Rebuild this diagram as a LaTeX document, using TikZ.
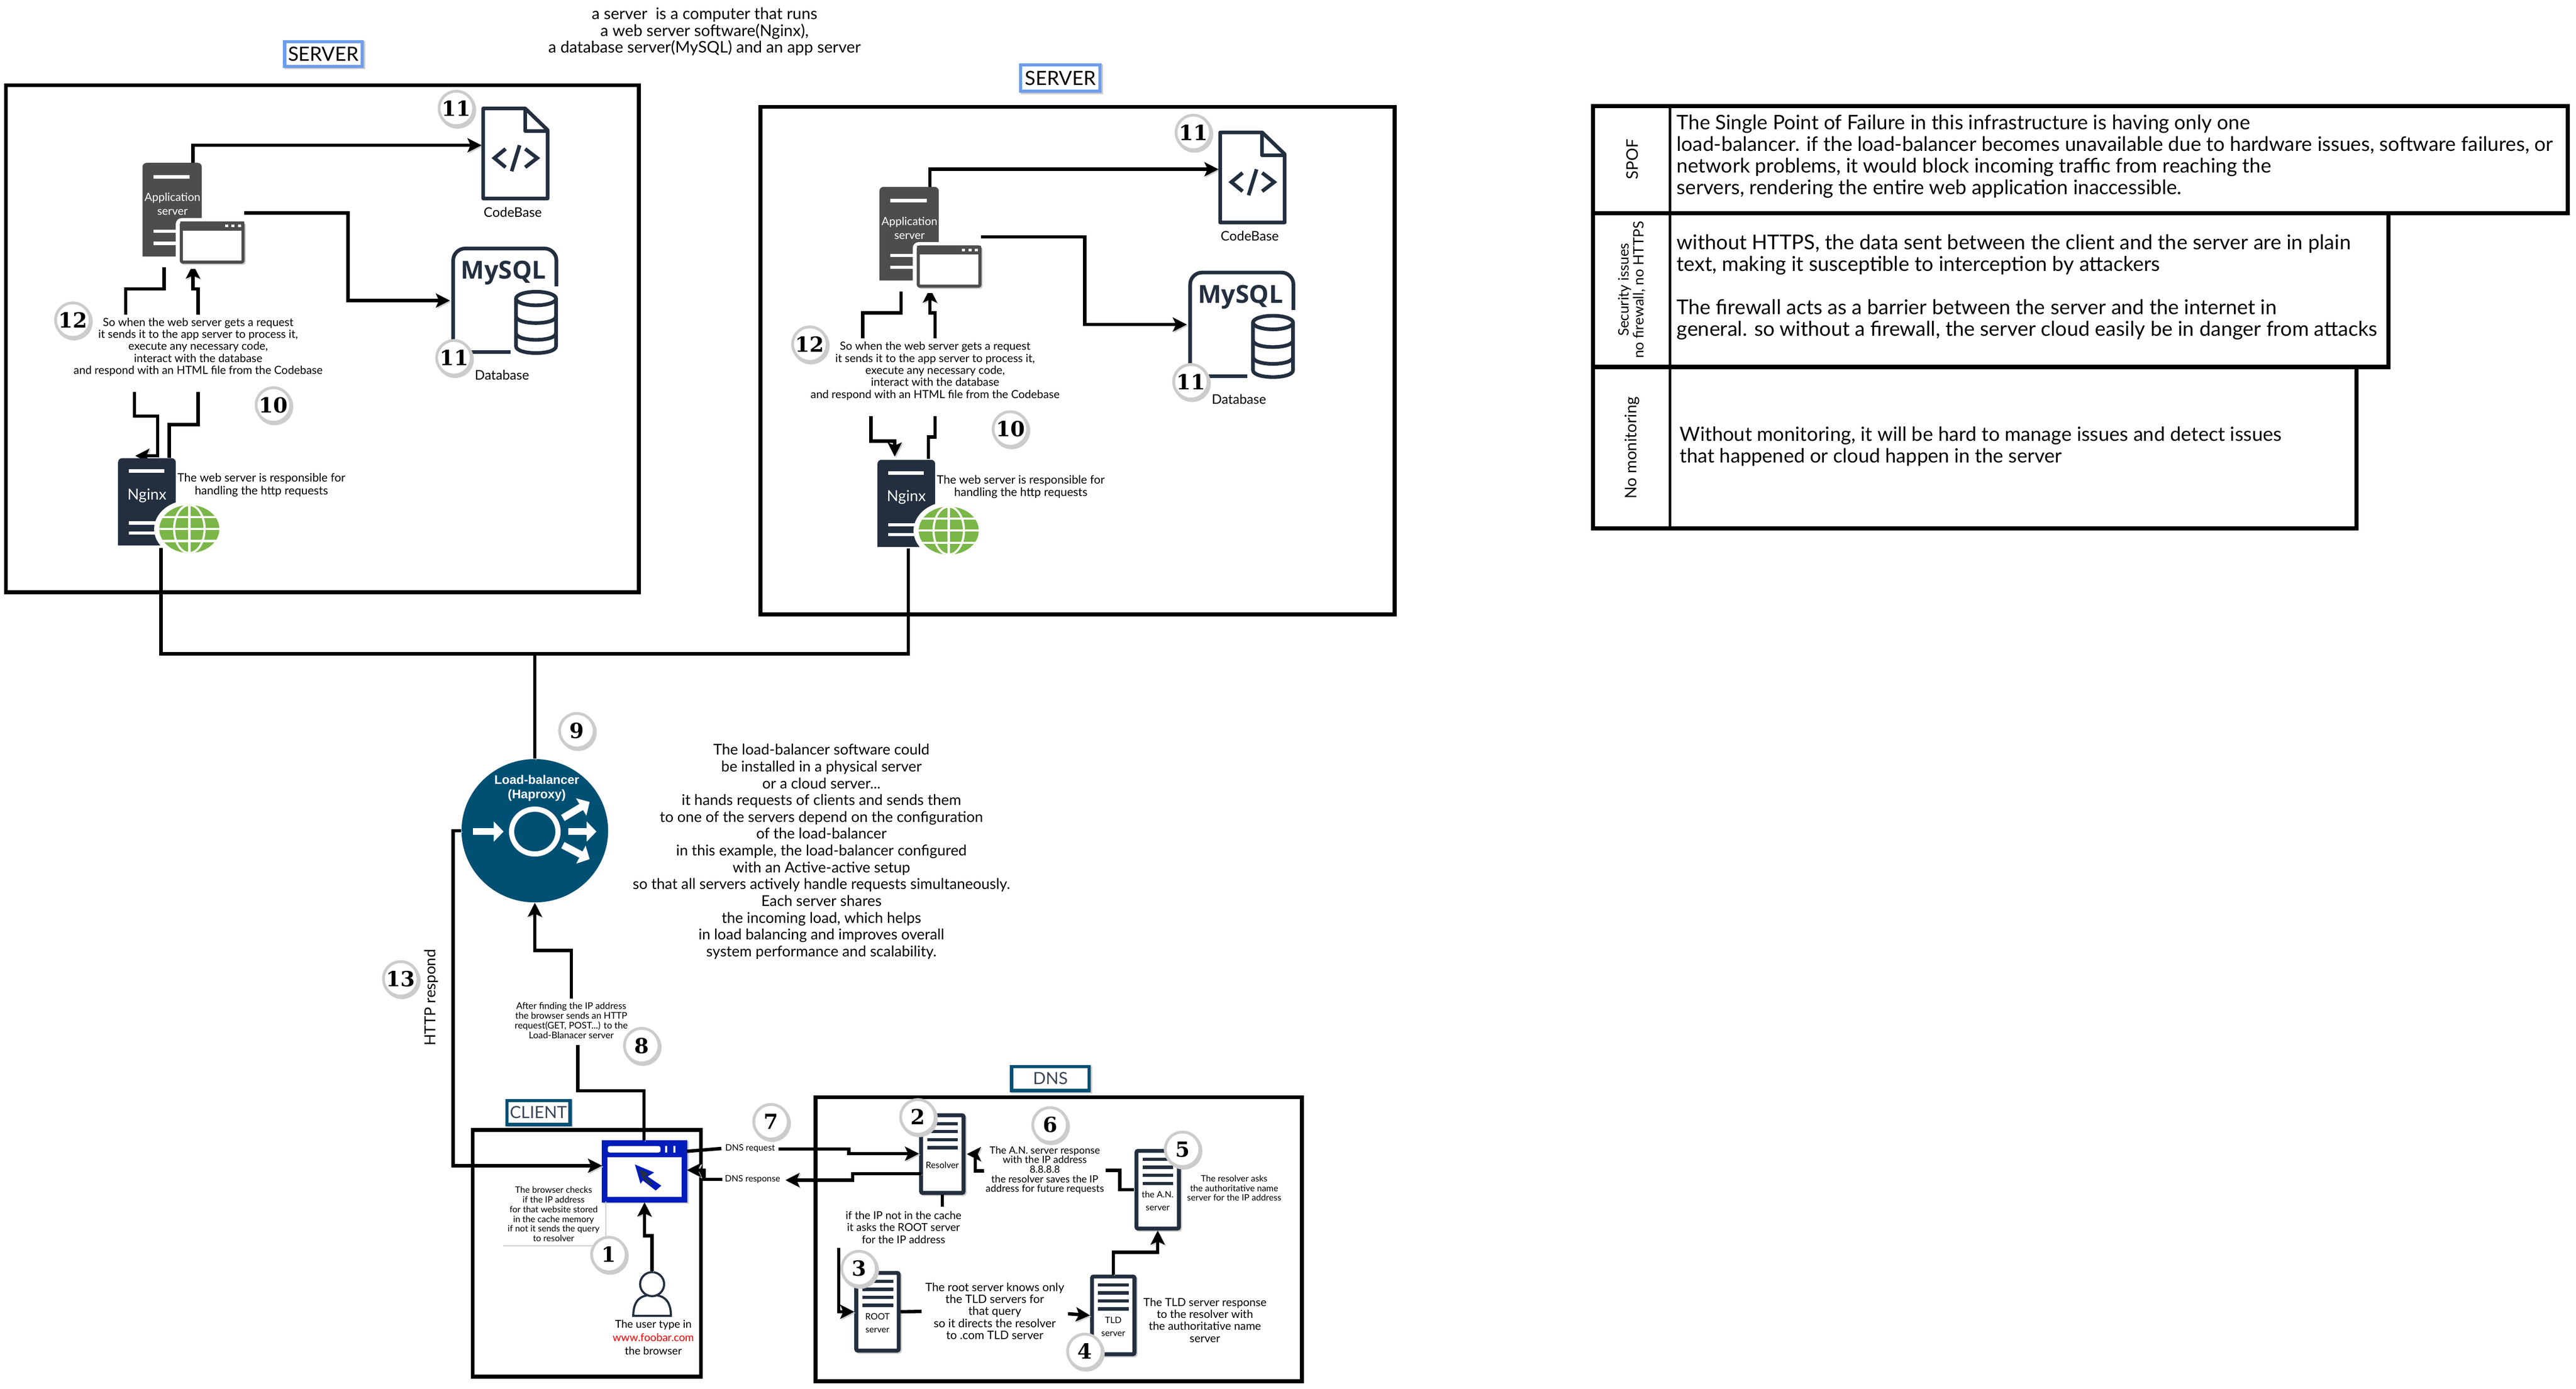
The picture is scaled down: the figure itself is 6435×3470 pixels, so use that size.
\documentclass[tikz,border=0pt]{standalone}
\usepackage{fontspec}
\usetikzlibrary{arrows.meta,shapes.geometric}
\setmainfont{Lato}
\newfontfamily\badgefont{DejaVu Serif}
\newfontfamily\lbfont{Liberation Sans}
\newfontfamily\dbfont{Open Sans}
\newcommand\hsz[2]{\pgfmathsetmacro\hsza{#1*0.2845}\pgfmathsetmacro\hszb{#2*0.2845}\fontsize{\hsza pt}{\hszb pt}\selectfont}
\definecolor{navy}{HTML}{232F3E}
\definecolor{lbblue}{HTML}{005073}
\definecolor{appgray}{HTML}{4D4D4D}
\definecolor{srvblue}{HTML}{6D9EEB}
\definecolor{brblue}{HTML}{001DBC}
\definecolor{globeg}{HTML}{7AB648}
\definecolor{ringg}{HTML}{CCCCCC}
\definecolor{tagtxt}{HTML}{3A4656}
\tikzset{
  sh/.style={preaction={draw=black!20,transform canvas={shift={(3,3)}}}},
  frame/.style={draw=black,line width=2.8pt,sh},
  conn/.style={draw=black,line width=2.4pt,line join=miter,sh},
  arw/.style={conn,-{Stealth[length=10pt,width=10pt,inset=2.2pt]}},
  lbl/.style={align=center,inner sep=0pt},
  tag/.style={draw=#1,fill=white,line width=2.3pt,inner sep=0pt,sh},
  badge/.style={circle,draw=ringg,fill=white,line width=2pt,minimum size=2.5cm/2.9,inner sep=0pt,font={\badgefont\bfseries\hsz{52}{52}},
     preaction={draw=black!20,transform canvas={shift={(3,4)}}}},
  navyline/.style={draw=navy,line width=2.6pt},
}
% DNS style server icon
\newcommand\dnsicon[4]{% name, x, y, label
  \node[draw=navy,fill=white,line width=2.8pt,rounded corners=0.4mm,minimum width=1.06cm,minimum height=1.94cm,inner sep=0pt,sh] (#1) at (#2+55,#3+99) {};
  \foreach \dy in {23,43,63,83}{\fill[navy] (#2+17,#3+\dy-4) rectangle (#2+94,#3+\dy+4);}
  \node[lbl,font=\hsz{22}{26}] (#1t) at (#2+55,#3+127) {#4};
}
% application server, codebase, database and the text between them
\newcommand\srvblock[1]{%
  \coordinate (#1a) at (482,407); \coordinate (#1b) at (1203,363);
  \coordinate (#1c) at (610,532); \coordinate (#1d) at (1124,751);
  \coordinate (#1e) at (410,668); \coordinate (#1f) at (314,786);
  \coordinate (#1g) at (495,786); \coordinate (#1h) at (482,661);
  \draw[arw] (#1a) -- (482,363) -- (#1b);
  \draw[arw] (#1c) -- (869,532) -- (869,751) -- (#1d);
  \draw[conn] (#1e) -- (410,722) -- (314,722) -- (#1f);
  \draw[arw] (#1g) -- (495,722) -- (482,722) -- (#1h);
  % application server
  \fill[appgray] (356,641) [rounded corners=1mm] -- (356,407) -- (504,407) [sharp corners] -- (504,641) -- cycle;
  \fill[white] (383,437) rectangle (474,446);
  \node[lbl,text=white,font=\hsz{28}{34}] (#1apt) at (431,510) {Application\\server};
  \fill[white] (383,574) rectangle (440,582);
  \fill[white] (383,604) rectangle (440,612);
  \fill[white,rounded corners=1.5mm] (439,545) rectangle (625,672);
  \node[draw=appgray,fill=white,line width=2.2pt,rounded corners=0.4mm,minimum width=1.54cm,minimum height=0.98cm,inner sep=0pt,sh] (#1win) at (530,606) {};
  \fill[appgray] (450,554) rectangle (610,576);
  \foreach \wx in {566,582,598}{\fill[white] (\wx-4,561) rectangle (\wx+4,568);}
  % codebase
  \draw[navyline,line join=round,fill=white,sh] (1207,271) -- (1312,271) -- (1368,325) -- (1368,496) -- (1207,496) -- cycle;
  \draw[navyline,line join=round] (1312,271) -- (1312,328) -- (1368,328);
  \draw[navyline] (1263,372) -- (1235,395) -- (1263,418);
  \draw[navyline] (1312,372) -- (1342,395) -- (1312,418);
  \draw[navyline] (1298,363) -- (1278,428);
  \node[lbl,font=\hsz{33}{33}] (#1cbt) at (1281,530) {CodeBase};
  % database
  \draw[navyline,rounded corners=3mm,line cap=butt] (1132,880) -- (1132,621) -- (1390,621) -- (1390,740);
  \draw[navyline] (1132,880) -- (1282,880);
  \node[lbl,text=navy,font={\dbfont\bfseries\hsz{62}{62}}] (#1my) at (1258,682) {MySQL};
  \fill[white] (1275,715) rectangle (1405,895);
  \draw[navyline,fill=white] (1289,746) -- (1289,865) .. controls (1289,888) and (1389,888) .. (1389,865) -- (1389,746);
  \draw[navyline,fill=white] (1339,746) ellipse[x radius=50,y radius=17];
  \draw[navyline] (1289,790) .. controls (1289,813) and (1389,813) .. (1389,790);
  \draw[navyline] (1289,832) .. controls (1289,855) and (1389,855) .. (1389,832);
  \node[lbl,font=\hsz{33}{33}] (#1dbt) at (1254,937) {Database};
  \node[lbl,font=\hsz{28}{30}] (#1lab) at (495,867) {So when the web server gets a request\\it sends it to the app server to process it,\\execute any necessary code,\\interact with the database\\and respond with an HTML file from the Codebase};
  \node[badge] (#1b1) at (1140,271) {11};
  \node[badge] (#1b2) at (1134,894) {11};
  \node[badge] (#1b3) at (182,800) {12};
  \node[badge] (#1b4) at (683,1012) {10};
}
% nginx with its globe
\newcommand\ngx[3]{%
  \fill[navy] (#2,#3+218) [rounded corners=1mm] -- (#2,#3) -- (#2+144,#3) [sharp corners] -- (#2+144,#3+218) -- cycle;
  \node[inner sep=0pt,minimum width=1.44cm,minimum height=2.18cm] (#1) at (#2+72,#3+109) {};
  \fill[white] (#2+27,#3+28) rectangle (#2+115,#3+37);
  \node[lbl,text=white,font=\hsz{38}{38}] (#1t) at (#2+72,#3+94) {Nginx};
  \fill[white] (#2+27,#3+158) rectangle (#2+100,#3+166);
  \fill[white] (#2+27,#3+183) rectangle (#2+100,#3+191);
  \fill[white] (#2+178,#3+177) ellipse[x radius=88,y radius=72];
  \fill[globeg] (#2+178,#3+177) ellipse[x radius=75,y radius=60];
  \begin{scope}
    \clip (#2+178,#3+177) ellipse[x radius=75,y radius=60];
    \draw[white,line width=1.5pt] (#2+178,#3+117) -- (#2+178,#3+237);
    \draw[white,line width=1.5pt] (#2+178,#3+177) ellipse[x radius=38,y radius=60];
    \draw[white,line width=1.5pt] (#2+100,#3+177) -- (#2+260,#3+177);
    \draw[white,line width=1.5pt] (#2+100,#3+147) -- (#2+260,#3+147);
    \draw[white,line width=1.5pt] (#2+100,#3+207) -- (#2+260,#3+207);
  \end{scope}
}
\begin{document}
\begin{tikzpicture}[x=0.01cm,y=-0.01cm]
\useasboundingbox (0,0) rectangle (6435,3470);
\fill[white] (0,0) rectangle (6435,3470);

% frames
\draw[frame] (15,213) rectangle (1596,1480);
\draw[frame] (1900,267) rectangle (3484,1535);
\draw[frame] (1181,2824) rectangle (1751,3440);
\draw[frame] (2037,2742) rectangle (3252,3452);

% tags
\node[tag=srvblue,minimum width=1.94cm,minimum height=0.62cm,font=\hsz{49}{49}] (tagA) at (808,135) {SERVER};
\node[tag=srvblue,minimum width=1.98cm,minimum height=0.66cm,font=\hsz{49}{49}] (tagB) at (2649,195) {SERVER};
\node[tag=lbblue,text=tagtxt,minimum width=1.58cm,minimum height=0.60cm,font=\hsz{42}{42}] (tagC) at (1345,2780) {CLIENT};
\node[tag=lbblue,text=tagtxt,minimum width=1.94cm,minimum height=0.60cm,font=\hsz{42}{42}] (tagD) at (2624,2695) {DNS};

% top text
\node[lbl,font=\hsz{40}{42}] (intro) at (1760,79) {a server\ \ is a computer that runs\\a web server software(Nginx),\\a database server(MySQL) and an app server};

% server blocks
\srvblock{p}
\begin{scope}[shift={(1841,60)}]
\srvblock{q}
\end{scope}

% nginx connectors
\coordinate (n1a) at (336,980); \coordinate (n1b) at (338,1139);
\coordinate (n1c) at (495,980); \coordinate (n1d) at (423,1144);
\coordinate (n2a) at (2176,1040); \coordinate (n2b) at (2235,1141);
\coordinate (n2c) at (2336,1040); \coordinate (n2d) at (2319,1147);
\draw[arw] (n1a) -- (336,1040) -- (394,1040) -- (394,1139) -- (n1b);
\draw[conn] (n1c) -- (495,1061) -- (423,1061) -- (n1d);
\draw[arw] (n2a) -- (2176,1102) -- (2235,1102) -- (n2b);
\draw[conn] (n2c) -- (2336,1092) -- (2319,1092) -- (n2d);

% load balancer
\node[ellipse,fill=lbblue,minimum width=3.66cm,minimum height=3.58cm,inner sep=0pt] (lb) at (1336,2076) {};
\coordinate (bus1) at (402,1370); \coordinate (bus2) at (2269,1371); \coordinate (busj) at (1336,1634);
\draw[conn] (bus1) -- (402,1634) -- (2269,1634) -- (bus2);
\draw[conn] (busj) -- (lb.north);
\node[lbl,text=white,font={\lbfont\bfseries\hsz{31}{36}}] (lbt) at (1341,1970) {Load-balancer\\(Haproxy)};
\draw[white,line width=3.7pt] (1336,2078) ellipse[x radius=58,y radius=56];
\foreach \ax/\ay/\bx/\by in {1181/2078/1258/2078,1419/2078/1490/2078,1406/2044/1473/2004,1406/2112/1473/2147}{
  \draw[white,line width=5pt,-{Triangle[length=7pt,width=14pt]}] (\ax,\ay) -- (\bx,\by);
}
\node[lbl,font=\hsz{37}{42}] (lbtxt) at (2052,2128) {The load-balancer software could\\be installed in a physical server\\or a cloud server...\\it hands requests of clients and sends them\\to one of the servers depend on the configuration\\of the load-balancer\\in this example, the load-balancer configured\\with an Active-active setup\\so that all servers actively handle requests simultaneously.\\Each server shares\\the incoming load, which helps\\in load balancing and improves overall\\system performance and scalability.};

% nginx icons
\ngx{ngA}{295}{1145}
\ngx{ngB}{2192}{1149}
\node[lbl,font=\hsz{29}{31}] (wsA) at (653,1212) {The web server is responsible for\\handling the http requests};
\node[lbl,font=\hsz{29}{31}] (wsB) at (2550,1216) {The web server is responsible for\\handling the http requests};

% client
\node[draw=brblue,fill=white,line width=4pt,minimum width=2.0cm,minimum height=1.41cm,inner sep=0pt,sh] (br) at (1610,2927) {};
\fill[brblue] (1504,2850) rectangle (1716,2892);
\fill[white,rounded corners=0.5mm] (1518,2864) rectangle (1650,2880);
\fill[white] (1662,2864) rectangle (1667,2880);
\fill[white] (1682,2864) rectangle (1687,2880);
\fill[brblue] (1586,2910) -- (1634,2930) -- (1618,2940) -- (1652,2963) -- (1638,2975) -- (1606,2950) -- (1600,2958) -- cycle;
\fill[navy] (1596,2922) -- (1620,2933) -- (1610,2941) -- (1630,2957) -- (1626,2962) -- (1604,2942) -- cycle;

\coordinate (lbl8t) at (1427,2496);
\draw[arw] (lbl8t) -- (1427,2375) -- (1336,2375) -- (lb.south);
\coordinate (lbl8b) at (1443,2611);
\draw[conn] (lbl8b) -- (1443,2726) -- (1609,2726) -- (1609,2850);
\coordinate (respE) at (1504,2913);
\draw[arw] (lb.west) -- (1132,2076) -- (1132,2913) -- (respE);
\node[lbl,rotate=90,font=\hsz{38}{38}] (httpr) at (1078,2493) {HTTP respond};
\node[lbl,font=\hsz{23}{24.3}] (after) at (1427,2550) {After finding the IP address\\the browser sends an HTTP\\request(GET, POST...) to the\\Load-Blanacer server};

\draw[ringg,line width=0.7pt] (1513,3003) -- (1513,3113) -- (1258,3113);
\node[lbl,font=\hsz{22}{24.2}] (chk) at (1383,3034) {The browser checks\\if the IP address\\for that website stored\\in the cache memory\\if not it sends the query\\to resolver};

\draw[navyline,line width=1.5pt,fill=white] (1582,3288) .. controls (1582,3245) and (1605,3236) .. (1629,3236) .. controls (1653,3236) and (1676,3245) .. (1676,3288) -- cycle;
\node[circle,draw=navy,fill=white,line width=1.5pt,minimum size=0.6cm,inner sep=0pt] (head) at (1629,3209) {};
\draw[arw] (head.north) -- (1629,3088) -- (1610,3088) -- (br.south);
\node[lbl,font=\hsz{27}{33}] (usr) at (1632,3342) {The user type in\\\textcolor{red}{www.foobar.com}\\the browser};

% DNS icons
\dnsicon{res}{2299}{2785}{Resolver}
\dnsicon{ans}{2837}{2874}{the A.N.\\[2pt]server}
\dnsicon{rts}{2137}{3179}{ROOT\\[2pt]server}
\dnsicon{tld}{2726}{3188}{TLD\\[2pt]server}

% DNS connectors
\node[lbl,font=\hsz{22}{22}] (dq) at (1874,2870) {DNS request};
\node[lbl,font=\hsz{22}{22}] (dr) at (1880,2947) {DNS response};
\coordinate (dq1) at (1716,2877); \coordinate (dq2) at (1802,2870);
\coordinate (dq3) at (1945,2871); \coordinate (dq4) at (2296,2883);
\coordinate (dr1) at (2301,2933); \coordinate (dr2) at (1962,2949);
\coordinate (dr3) at (1804,2947); \coordinate (dr4) at (1716,2924);
\draw[conn] (dq1) -- (dq2);
\draw[arw] (dq3) -- (2120,2871) -- (2120,2883) -- (dq4);
\draw[arw] (dr1) -- (2130,2933) -- (2130,2949) -- (dr2);
\draw[arw] (dr3) -- (1759,2947) -- (1759,2924) -- (dr4);
\coordinate (an1) at (2762,2925); \coordinate (an2) at (2458,2926); \coordinate (an3) at (2415,2884);
\draw[conn] (ans.west) ++(-2,0) -- (2797,2973) -- (2797,2925) -- (an1);
\draw[arw] (an2) -- (2436,2926) -- (2436,2884) -- (an3);
\node[lbl,font=\hsz{25}{24}] (antx) at (2610,2924) {The A.N. server response\\with the IP address\\8.8.8.8\\the resolver saves the IP\\address for future requests};
\coordinate (rsd) at (2354,3015);
\draw[conn] (res.south) -- (rsd);
\node[lbl,font=\hsz{27}{30}] (ift) at (2257,3067) {if the IP not in the cache\\it asks the ROOT server\\for the IP address};
\coordinate (rt0) at (2095,3118);
\draw[arw] (rt0) -- (2095,3278) -- (rts.west);
\coordinate (rt2) at (2302,3277); \coordinate (rt3) at (2668,3283);
\draw[conn] (rts.east) -- (rt2);
\draw[arw] (rt3) -- (tld.west);
\node[lbl,font=\hsz{29}{30}] (rtx) at (2485,3276) {The root server knows only\\the TLD servers for\\that query\\so it directs the resolver\\to .com TLD server};
\draw[arw] (tld.north) -- (2781,3129) -- (2892,3129) -- (ans.south);
\node[lbl,font=\hsz{28}{30}] (tltx) at (3010,3299) {The TLD server response\\to the resolver with\\the authoritative name\\server};
\node[lbl,font=\hsz{22}{24}] (rsk) at (3083,2969) {The resolver asks\\the authoritative name\\server for the IP address};

% badges
\node[badge] (b1) at (1521,3135) {1};
\node[badge] (b2) at (2293,2791) {2};
\node[badge] (b3) at (2146,3170) {3};
\node[badge] (b4) at (2710,3377) {4};
\node[badge] (b5) at (2954,2872) {5};
\node[badge] (b6) at (2623,2811) {6};
\node[badge] (b7) at (1926,2803) {7};
\node[badge] (b8) at (1603,2613) {8};
\node[badge] (b9) at (1441,1826) {9};
\node[badge] (b13) at (1001,2446) {13};

% table
\draw[frame,line width=3pt] (3979,265) rectangle (6414,533);
\draw[frame,line width=3pt] (3979,533) rectangle (5966,917);
\draw[frame,line width=3pt] (3979,917) rectangle (5887,1320);
\draw[draw=black,line width=1.8pt] (4172,265) -- (4172,1320);
\node[lbl,rotate=90,font=\hsz{40}{38}] (rA) at (4077,398) {SPOF};
\node[lbl,rotate=90,font=\hsz{36}{38}] (rB) at (4077,724) {Security issues\\no firewall, no HTTPS};
\node[lbl,rotate=90,font=\hsz{40}{38}] (rC) at (4077,1119) {No monitoring};
\node[lbl,align=left,anchor=west,font=\hsz{50}{54}] (cA) at (4188,391) {The Single Point of Failure in this infrastructure is having only one\\load-balancer. if the load-balancer becomes unavailable due to hardware issues, software failures, or\\network problems, it would block incoming traffic from reaching the\\servers, rendering the entire web application inaccessible.};
\node[lbl,align=left,anchor=west,font=\hsz{51}{54}] (cB) at (4188,717) {without HTTPS, the data sent between the client and the server are in plain\\text, making it susceptible to interception by attackers\\~\\The firewall acts as a barrier between the server and the internet in\\general. so without a firewall, the server cloud easily be in danger from attacks};
\node[lbl,align=left,anchor=west,font=\hsz{49}{54}] (cC) at (4196,1116) {Without monitoring, it will be hard to manage issues and detect issues\\that happened or cloud happen in the server};
\end{tikzpicture}
\end{document}
